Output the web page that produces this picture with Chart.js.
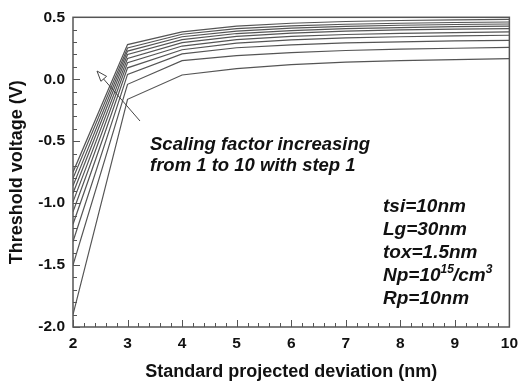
<!DOCTYPE html>
<html>
<head>
<meta charset="utf-8">
<script src="https://cdn.jsdelivr.net/npm/chart.js@4"></script>
<style>
html,body{margin:0;padding:0;background:#fff;}
#wrap{width:525px;height:383px;}
</style>
</head>
<body>
<div id="wrap"><canvas id="c" width="525" height="383"></canvas></div>
<script>
const xValues = [2, 3, 4, 5, 6, 7, 8, 9, 10];
const vt1  = [-1.90, -0.162, 0.034, 0.085, 0.118, 0.138, 0.150, 0.159, 0.166];
const vt2  = [-1.50, -0.041, 0.150, 0.190, 0.215, 0.232, 0.243, 0.250, 0.257];
const vt3  = [-1.31,  0.039, 0.205, 0.254, 0.278, 0.294, 0.302, 0.309, 0.313];
const vt4  = [-1.17,  0.092, 0.238, 0.291, 0.318, 0.334, 0.343, 0.350, 0.355];
const vt5  = [-1.07,  0.133, 0.268, 0.319, 0.346, 0.361, 0.371, 0.377, 0.382];
const vt6  = [-0.99,  0.168, 0.295, 0.346, 0.373, 0.388, 0.398, 0.404, 0.409];
const vt7  = [-0.92,  0.200, 0.320, 0.369, 0.393, 0.409, 0.417, 0.424, 0.428];
const vt8  = [-0.86,  0.227, 0.343, 0.389, 0.413, 0.427, 0.436, 0.442, 0.446];
const vt9  = [-0.80,  0.253, 0.363, 0.408, 0.430, 0.444, 0.452, 0.458, 0.462];
const vt10 = [-0.75,  0.280, 0.383, 0.428, 0.452, 0.466, 0.474, 0.480, 0.484];
const seriesList = [vt1, vt2, vt3, vt4, vt5, vt6, vt7, vt8, vt9, vt10];
const xTickLabels = ['2','3','4','5','6','7','8','9','10'];
const yTickLabels = ['-2.0','-1.5','-1.0','-0.5','0.0','0.5'];

const datasets = seriesList.map((s, i) => ({
  label: 'Scaling factor ' + (i + 1),
  data: xValues.map((x, j) => ({x: x, y: s[j]})),
  borderColor: '#555555',
  borderWidth: 1.2,
  pointRadius: 0,
  tension: 0,
  fill: false
}));

const FONT = '"Liberation Sans", Arial, sans-serif';

const decor = {
  id: 'decor',
  afterDatasetsDraw(chart) {
    const ctx = chart.ctx;
    const a = chart.chartArea;
    const xs = chart.scales.x, ys = chart.scales.y;
    ctx.save();
    // frame
    ctx.strokeStyle = '#555';
    ctx.lineWidth = 1.5;
    ctx.strokeRect(a.left, a.top, a.right - a.left, a.bottom - a.top);
    // ticks inward
    ctx.lineWidth = 1;
    for (let v = 2; v <= 10.001; v += 0.2) {
      const px = Math.round(xs.getPixelForValue(v)) + 0.5;
      const major = Math.abs(v - Math.round(v)) < 1e-6;
      const len = major ? 7 : 4;
      ctx.beginPath();
      ctx.moveTo(px, a.bottom);
      ctx.lineTo(px, a.bottom - len);
      ctx.stroke();
    }
    for (let k = -20; k <= 5; k++) {
      const v = k / 10;
      const py = Math.round(ys.getPixelForValue(v)) + 0.5;
      const major = (k % 5 === 0);
      const len = major ? 7 : 4;
      ctx.beginPath();
      ctx.moveTo(a.left, py);
      ctx.lineTo(a.left + len, py);
      ctx.stroke();
    }
    // arrow
    ctx.strokeStyle = '#444';
    ctx.lineWidth = 1;
    const x0 = 140, y0 = 121, x1 = 97, y1 = 71;
    ctx.beginPath();
    ctx.moveTo(x0, y0);
    ctx.lineTo(x1 + 4, y1 + 5);
    ctx.stroke();
    const ang = Math.atan2(y1 - y0, x1 - x0);
    const hl = 11, hw = 0.35;
    ctx.beginPath();
    ctx.moveTo(x1, y1);
    ctx.lineTo(x1 - hl * Math.cos(ang - hw), y1 - hl * Math.sin(ang - hw));
    ctx.lineTo(x1 - hl * Math.cos(ang + hw), y1 - hl * Math.sin(ang + hw));
    ctx.closePath();
    ctx.fillStyle = '#fff';
    ctx.fill();
    ctx.stroke();
    // annotation text
    ctx.fillStyle = '#111';
    ctx.textBaseline = 'alphabetic';
    ctx.textAlign = 'left';
    ctx.font = 'italic bold 18.5px ' + FONT;
    ctx.fillText('Scaling factor increasing', 150, 150);
    ctx.fillText('from 1 to 10 with step 1', 150, 171);
    // parameters
    ctx.font = 'italic bold 19px ' + FONT;
    const px0 = 383;
    ctx.fillText('tsi=10nm', px0, 212);
    ctx.fillText('Lg=30nm', px0, 235);
    ctx.fillText('tox=1.5nm', px0, 258);
    // Np=10^15/cm^3
    let cx = px0;
    const yb = 281;
    ctx.fillText('Np=10', cx, yb); cx += ctx.measureText('Np=10').width;
    ctx.font = 'italic bold 12px ' + FONT;
    ctx.fillText('15', cx, yb - 8); cx += ctx.measureText('15').width - 1;
    ctx.font = 'italic bold 19px ' + FONT;
    ctx.fillText('/cm', cx, yb); cx += ctx.measureText('/cm').width;
    ctx.font = 'italic bold 12px ' + FONT;
    ctx.fillText('3', cx, yb - 8);
    ctx.font = 'italic bold 19px ' + FONT;
    ctx.fillText('Rp=10nm', px0, 304);
    ctx.restore();
  }
};

new Chart(document.getElementById('c'), {
  type: 'line',
  data: { datasets: datasets },
  plugins: [decor],
  options: {
    responsive: false,
    animation: false,
    devicePixelRatio: 1,
    layout: { padding: { top: 16, right: 9, left: 0, bottom: 0 } },
    plugins: { legend: { display: false }, tooltip: { enabled: false } },
    scales: {
      x: {
        type: 'linear', min: 2, max: 10,
        afterFit(s) { s.height = 56; },
        afterBuildTicks(s) { s.ticks = xTickLabels.map(t => ({value: parseFloat(t)})); },
        grid: { display: false, drawTicks: false },
        border: { display: false },
        ticks: {
          autoSkip: false, maxRotation: 0, padding: 7, color: '#111',
          font: { family: FONT, size: 15.5, weight: 'bold' },
          callback: (v) => { const t = xTickLabels.find(l => parseFloat(l) === v); return t === undefined ? '' : t; }
        },
        title: {
          display: true, text: 'Standard projected deviation (nm)', color: '#111',
          font: { family: FONT, size: 18, weight: 'bold' }, padding: { top: 2, bottom: 0 }
        }
      },
      y: {
        type: 'linear', min: -2, max: 0.5,
        afterFit(s) { s.width = 73; },
        afterBuildTicks(s) { s.ticks = yTickLabels.map(t => ({value: parseFloat(t)})); },
        grid: { display: false, drawTicks: false },
        border: { display: false },
        ticks: {
          autoSkip: false, padding: 8, color: '#111',
          font: { family: FONT, size: 15.5, weight: 'bold' },
          callback: (v) => { const t = yTickLabels.find(l => Math.abs(parseFloat(l) - v) < 1e-9); return t === undefined ? '' : t; }
        },
        title: {
          display: true, text: 'Threshold voltage (V)', color: '#111',
          font: { family: FONT, size: 18, weight: 'bold' }, padding: { top: 6, bottom: 0 }
        }
      }
    }
  }
});
</script>
</body>
</html>
